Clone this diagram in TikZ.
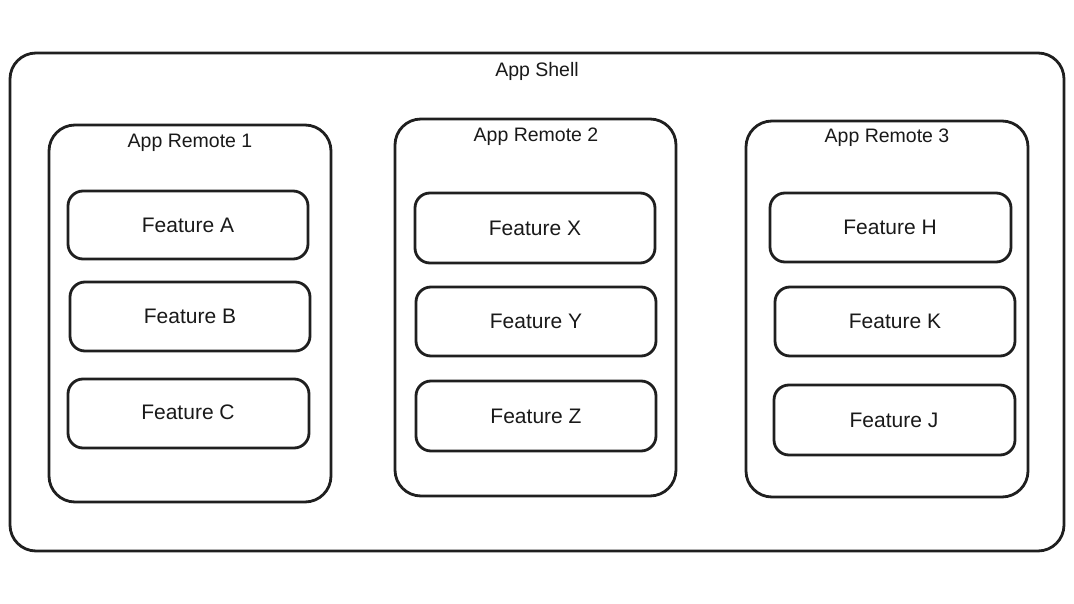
\documentclass[tikz,border=0pt]{standalone}
\usepackage{fontspec}
\setmainfont{Liberation Sans}
\begin{document}
\begin{tikzpicture}[x=1pt,y=-1pt,
  frame/.style={draw=black!88,line width=2.8pt,rounded corners=#1,inner sep=0pt,outer sep=0pt},
  title/.style={font=\fontsize{19.5}{22}\selectfont,text=black!90,inner sep=0pt},
  feat/.style={font=\fontsize{21}{24}\selectfont,text=black!90,inner sep=0pt}]
\useasboundingbox (0,0) rectangle (1074,604);
% shell
\draw[frame=26] (10,53) rectangle (1064,551);
\node[title] (shell) at (537,71) {App Shell};
% remotes
\draw[frame=26] (49,125) rectangle (331,502);
\node[title] (r1) at (190,143) {App Remote 1};
\draw[frame=26] (395,119) rectangle (676,496);
\node[title] (r2) at (536,137) {App Remote 2};
\draw[frame=26] (746,121) rectangle (1028,497);
\node[title] (r3) at (887,138) {App Remote 3};
% features remote 1
\draw[frame=15] (68,191) rectangle (308,259);
\node[feat] (fa) at (188,225) {Feature A};
\draw[frame=15] (70,282) rectangle (310,351);
\node[feat] (fb) at (190,316) {Feature B};
\draw[frame=15] (68,379) rectangle (309,448);
\node[feat] (fc) at (188,412) {Feature C};
% features remote 2
\draw[frame=15] (415,193) rectangle (655,263);
\node[feat] (fx) at (535,228) {Feature X};
\draw[frame=15] (416,287) rectangle (656,356);
\node[feat] (fy) at (536,321) {Feature Y};
\draw[frame=15] (416,381) rectangle (656,451);
\node[feat] (fz) at (536,416) {Feature Z};
% features remote 3
\draw[frame=15] (770,193) rectangle (1011,262);
\node[feat] (fh) at (890,227) {Feature H};
\draw[frame=15] (775,287) rectangle (1015,356);
\node[feat] (fk) at (895,321) {Feature K};
\draw[frame=15] (774,385) rectangle (1015,455);
\node[feat] (fj) at (894,420) {Feature J};
\end{tikzpicture}
\end{document}
